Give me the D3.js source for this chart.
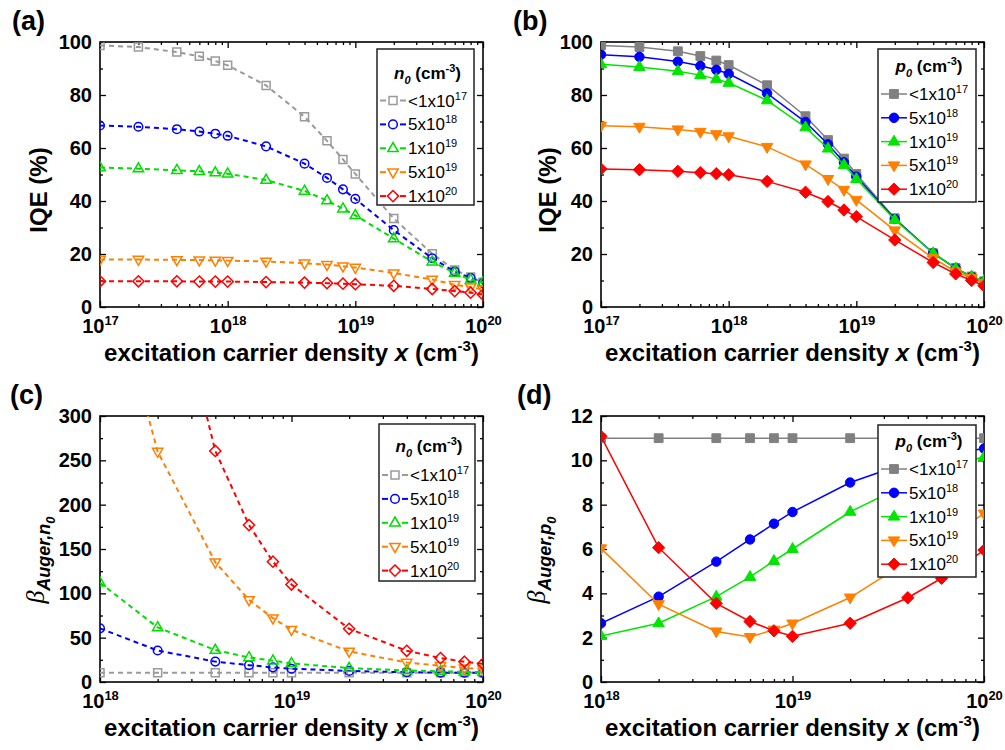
<!DOCTYPE html>
<html>
<head>
<meta charset="utf-8">
<script src="https://cdn.jsdelivr.net/npm/d3@7"></script>
<style>
  body { margin: 0; background: #fff; }
  svg { font-family: "Liberation Sans", Arial, Helvetica, sans-serif; }
</style>
</head>
<body>
<svg id="chart" width="1005" height="750"></svg>
<script>
// x positions (excitation carrier density, cm^-3)
var xIQE = [1e17, 2e17, 4e17, 6e17, 8e17, 1e18, 2e18, 4e18, 6e18, 8e18, 1e19, 2e19, 4e19, 6e19, 8e19, 1e20];
var xBeta = [1e18, 2e18, 4e18, 6e18, 8e18, 1e19, 2e19, 4e19, 6e19, 8e19, 1e20];

// tick values
var iqeXTicks = [1e17, 1e18, 1e19, 1e20];
var betaXTicks = [1e18, 1e19, 1e20];
var iqeYTicks = [0, 20, 40, 60, 80, 100];
var betaNYTicks = [0, 50, 100, 150, 200, 250, 300];
var betaPYTicks = [0, 2, 4, 6, 8, 10, 12];

// legend labels: mantissa + exponent
var dopingLabels = [['<1x10', '17'], ['5x10', '18'], ['1x10', '19'], ['5x10', '19'], ['1x10', '20']];

// (a) IQE, n-type background n0
var iqeN1 = [98.7, 98.1, 96.2, 94.6, 92.8, 91.2, 83.6, 71.8, 62.7, 55.7, 50.2, 33.4, 20.1, 14.0, 11.3, 9.3];
var iqeN2 = [68.5, 68.0, 67.1, 66.2, 65.4, 64.6, 60.6, 54.1, 48.7, 44.4, 40.8, 29.0, 18.4, 13.4, 10.9, 9.0];
var iqeN3 = [52.6, 52.2, 51.6, 51.2, 50.7, 50.3, 47.9, 43.8, 40.2, 37.1, 34.6, 25.8, 17.1, 12.8, 10.3, 9.3];
var iqeN4 = [17.9, 17.9, 17.8, 17.7, 17.6, 17.5, 17.2, 16.5, 16.0, 15.4, 14.9, 12.8, 10.4, 8.4, 7.5, 6.6];
var iqeN5 = [9.7, 9.7, 9.7, 9.6, 9.6, 9.6, 9.4, 9.2, 9.0, 8.8, 8.6, 8.0, 6.8, 6.0, 5.4, 4.7];

// (b) IQE, p-type background p0
var iqeP1 = [98.7, 98.1, 96.5, 94.7, 93.0, 91.3, 83.7, 72.0, 63.0, 56.0, 50.2, 33.5, 20.3, 14.7, 11.5, 9.7];
var iqeP2 = [95.2, 94.4, 92.6, 91.0, 89.5, 88.0, 80.6, 69.8, 61.4, 54.6, 49.2, 33.2, 20.3, 14.6, 11.4, 9.5];
var iqeP3 = [91.6, 90.6, 89.0, 87.5, 86.0, 84.6, 78.0, 67.8, 59.8, 53.6, 48.3, 32.9, 20.3, 14.6, 11.5, 9.9];
var iqeP4 = [68.4, 68.0, 67.0, 66.1, 65.2, 64.4, 60.4, 53.8, 48.3, 44.2, 40.4, 28.9, 18.4, 13.4, 10.9, 9.0];
var iqeP5 = [52.1, 51.8, 51.2, 50.7, 50.3, 49.9, 47.4, 43.3, 39.8, 36.6, 34.1, 25.3, 16.8, 12.5, 10.0, 8.0];

// (c) beta Auger, n0
var betaN1 = [10.5, 10.5, 10.5, 10.5, 10.5, 10.5, 10.5, 10.5, 10.5, 10.5, 10.5];
var betaN2 = [60.5, 35.5, 23.0, 19.0, 16.5, 15.0, 12.5, 11.0, 10.6, 10.4, 10.3];
var betaN3 = [112, 61.5, 36.0, 27.7, 24.0, 21.0, 15.7, 13.0, 12.0, 11.5, 11.2];
var betaN4 = [500, 260, 135, 92.6, 72.0, 59.0, 34.5, 22.0, 18.3, 15.7, 14.5];
var betaN5 = [1050, 525, 260.6, 177, 135.7, 110, 60.0, 35.2, 27.0, 22.8, 20.5];

// (d) beta Auger, p0
var betaP1 = [11, 11, 11, 11, 11, 11, 11, 11, 11, 11, 11];
var betaP2 = [2.65, 3.85, 5.43, 6.43, 7.14, 7.67, 9.0, 9.9, 10.2, 10.4, 10.53];
var betaP3 = [2.08, 2.65, 3.85, 4.74, 5.46, 6.0, 7.68, 8.95, 9.6, 9.95, 10.15];
var betaP4 = [6.03, 3.51, 2.28, 2.03, 2.36, 2.64, 3.81, 5.45, 6.4, 7.05, 7.6];
var betaP5 = [11.08, 6.06, 3.55, 2.73, 2.31, 2.06, 2.65, 3.8, 4.68, 5.35, 5.95];

var markers = ['square', 'circle', 'triUp', 'triDown', 'diamond'];
var colorsOpen = ['#9a9a9a', '#0000ff', '#00dd00', '#ff8000', '#ff0000'];
var colorsFilled = ['#808080', '#0000ff', '#00e600', '#ff8000', '#ff0000'];

var svg = d3.select('#chart');

// marker shapes, centred on 0,0
function markerPath(type, filled) {
  var k = filled ? 1.1 : 1;
  if (type === 'square') {
    var h = 4 * k;
    return 'M' + (-h) + ',' + (-h) + 'h' + 2 * h + 'v' + 2 * h + 'h' + (-2 * h) + 'Z';
  }
  if (type === 'circle') {
    var r = 4.3 * k;
    return 'M' + r + ',0A' + r + ',' + r + ' 0 1,1 ' + (-r) + ',0A' + r + ',' + r + ' 0 1,1 ' + r + ',0Z';
  }
  if (type === 'triUp' || type === 'triDown') {
    var w = 5.2 * k, t = 5.8 * k, b = 3.2 * k;
    var s = type === 'triUp' ? 1 : -1;
    return 'M0,' + (-t * s) + 'L' + w + ',' + (b * s) + 'L' + (-w) + ',' + (b * s) + 'Z';
  }
  var d = 5.6 * k;
  return 'M0,' + (-d) + 'L' + d + ',0L0,' + d + 'L' + (-d) + ',0Z';
}

function drawPanel(p) {
  var x = d3.scaleLog().domain(p.xDomain).range([p.left, p.right]);
  var y = d3.scaleLinear().domain(p.yDomain).range([p.bottom, p.top]);
  var g = svg.append('g');

  g.append('clipPath').attr('id', 'clip-' + p.id)
    .append('rect')
    .attr('x', p.left).attr('y', p.top)
    .attr('width', p.right - p.left).attr('height', p.bottom - p.top);

  // minor ticks
  var minorX = [];
  var lo = Math.round(Math.log10(p.xDomain[0])), hi = Math.round(Math.log10(p.xDomain[1]));
  for (var dec = lo; dec < hi; dec++) {
    for (var m = 2; m <= 9; m++) minorX.push(m * Math.pow(10, dec));
  }
  var step = p.yTicks[1] - p.yTicks[0];
  var minorY = p.yTicks.slice(0, -1).map(function(v) { return v + step / 2; });

  function addAxis(axis, tx, ty) {
    var a = g.append('g').attr('transform', 'translate(' + tx + ',' + ty + ')').call(axis);
    a.select('.domain').remove();
    a.selectAll('line').attr('stroke', '#000').attr('stroke-width', 1.3);
    return a;
  }

  var bottomAxis = addAxis(d3.axisBottom(x).tickValues(p.xTicks).tickSizeInner(-6).tickSizeOuter(0).tickPadding(12), 0, p.bottom);
  addAxis(d3.axisBottom(x).tickValues(minorX).tickSizeInner(-3).tickSizeOuter(0).tickFormat(''), 0, p.bottom);
  addAxis(d3.axisTop(x).tickValues(p.xTicks).tickSizeInner(-6).tickSizeOuter(0).tickFormat(''), 0, p.top);
  addAxis(d3.axisTop(x).tickValues(minorX).tickSizeInner(-3).tickSizeOuter(0).tickFormat(''), 0, p.top);
  var leftAxis = addAxis(d3.axisLeft(y).tickValues(p.yTicks).tickSizeInner(-6).tickSizeOuter(0).tickPadding(8), p.left, 0);
  addAxis(d3.axisLeft(y).tickValues(minorY).tickSizeInner(-3).tickSizeOuter(0).tickFormat(''), p.left, 0);
  addAxis(d3.axisRight(y).tickValues(p.yTicks).tickSizeInner(-6).tickSizeOuter(0).tickFormat(''), p.right, 0);
  addAxis(d3.axisRight(y).tickValues(minorY).tickSizeInner(-3).tickSizeOuter(0).tickFormat(''), p.right, 0);

  leftAxis.selectAll('text')
    .attr('font-family', null)
    .style('font-size', '20px').style('font-weight', 'bold').attr('fill', '#000');

  // x labels as 10^n
  bottomAxis.selectAll('text').each(function(d) {
    var t = d3.select(this).attr('font-family', null).attr('fill', '#000')
      .style('font-size', '20px').style('font-weight', 'bold');
    t.text('');
    t.append('tspan').text('10');
    t.append('tspan').attr('dy', -8).style('font-size', '13px').text(Math.round(Math.log10(d)));
  });

  // frame
  g.append('rect')
    .attr('x', p.left).attr('y', p.top)
    .attr('width', p.right - p.left).attr('height', p.bottom - p.top)
    .attr('fill', 'none').attr('stroke', '#000').attr('stroke-width', 1.6);

  // data
  var plot = g.append('g').attr('clip-path', 'url(#clip-' + p.id + ')');
  var line = d3.line().x(function(d) { return x(d[0]); }).y(function(d) { return y(d[1]); });
  p.series.forEach(function(vals, i) {
    var color = p.filled ? colorsFilled[i] : colorsOpen[i];
    var pts = p.xs.map(function(xv, j) { return [xv, vals[j]]; });
    plot.append('path')
      .attr('d', line(pts))
      .attr('fill', 'none')
      .attr('stroke', color)
      .attr('stroke-width', p.filled ? 1.5 : 2)
      .attr('stroke-dasharray', p.filled ? null : '5,4');
    plot.selectAll(null).data(pts).enter().append('path')
      .attr('transform', function(d) { return 'translate(' + x(d[0]) + ',' + y(d[1]) + ')'; })
      .attr('d', markerPath(markers[i], p.filled))
      .attr('fill', p.filled ? color : 'none')
      .attr('stroke', color)
      .attr('stroke-width', p.filled ? 1 : 1.5);
  });

  // legend
  var L = p.legend;
  var lg = g.append('g');
  lg.append('rect')
    .attr('x', L.x).attr('y', L.y).attr('width', L.w).attr('height', L.h)
    .attr('fill', '#fff').attr('stroke', '#222').attr('stroke-width', 1.5);
  var title = lg.append('text')
    .attr('x', L.x + L.w / 2 + 2).attr('y', L.titleY)
    .attr('text-anchor', 'middle')
    .style('font-size', '17px').style('font-weight', 'bold');
  title.append('tspan').style('font-style', 'italic').text(p.carrier);
  title.append('tspan').attr('dy', 5).style('font-style', 'italic').style('font-size', '11px').text('0');
  title.append('tspan').attr('dy', -5).text(' (cm');
  title.append('tspan').attr('dy', -7).style('font-size', '11px').text('-3');
  title.append('tspan').attr('dy', 7).text(')');

  dopingLabels.forEach(function(lab, i) {
    var color = p.filled ? colorsFilled[i] : colorsOpen[i];
    var cy = L.firstY + i * L.stepY, cx = L.x + 16;
    if (p.filled) {
      lg.append('line').attr('x1', cx - 13).attr('x2', cx + 13).attr('y1', cy).attr('y2', cy)
        .attr('stroke', color).attr('stroke-width', 1.5);
    } else {
      [[-13, -7], [7, 13]].forEach(function(seg) {
        lg.append('line').attr('x1', cx + seg[0]).attr('x2', cx + seg[1]).attr('y1', cy).attr('y2', cy)
          .attr('stroke', color).attr('stroke-width', 2);
      });
    }
    lg.append('path')
      .attr('transform', 'translate(' + cx + ',' + cy + ')')
      .attr('d', markerPath(markers[i], p.filled))
      .attr('fill', p.filled ? color : 'none')
      .attr('stroke', color)
      .attr('stroke-width', p.filled ? 1 : 1.5);
    var t = lg.append('text').attr('x', L.x + 31).attr('y', cy + 6).style('font-size', '17px');
    t.append('tspan').text(lab[0]);
    t.append('tspan').attr('dy', -7).style('font-size', '11px').text(lab[1]);
  });

  // axis titles
  var xt = g.append('text')
    .attr('x', (p.left + p.right) / 2).attr('y', p.bottom + 54)
    .attr('text-anchor', 'middle')
    .style('font-size', '24px').style('font-weight', 'bold');
  xt.append('tspan').text('excitation carrier density ');
  xt.append('tspan').style('font-style', 'italic').text('x');
  xt.append('tspan').text(' (cm');
  xt.append('tspan').attr('dy', -10).style('font-size', '15px').text('-3');
  xt.append('tspan').attr('dy', 10).text(')');

  var yt = g.append('text')
    .attr('transform', 'translate(' + p.yTitleX + ',' + p.yTitleY + ') rotate(-90)')
    .attr('text-anchor', 'middle');
  if (p.yTitle === 'IQE') {
    yt.style('font-size', '24px').style('font-weight', 'bold').text('IQE (%)');
  } else {
    yt.append('tspan').style('font-family', '"Liberation Serif", serif').style('font-style', 'italic')
      .style('font-size', '26px').text('\u03b2');
    yt.append('tspan').attr('dy', 6).style('font-size', '18px').style('font-weight', 'bold')
      .style('font-style', 'italic').text('Auger,' + p.carrier);
    yt.append('tspan').attr('dy', 5).style('font-size', '13px').style('font-weight', 'bold')
      .style('font-style', 'italic').text('0');
  }

  // panel letter
  g.append('text').attr('x', p.labelX).attr('y', p.top - 12.5)
    .style('font-size', '27px').style('font-weight', 'bold').text(p.label);
}

drawPanel({
  id: 'a', label: '(a)', labelX: 12, left: 100, right: 483, top: 42, bottom: 307,
  xDomain: [1e17, 1e20], yDomain: [0, 100], xTicks: iqeXTicks, yTicks: iqeYTicks,
  xs: xIQE, series: [iqeN1, iqeN2, iqeN3, iqeN4, iqeN5], filled: false, carrier: 'n',
  yTitle: 'IQE', yTitleX: 47, yTitleY: 190,
  legend: { x: 377, y: 49, w: 97, h: 156, titleY: 79, firstY: 100.5, stepY: 23.9 }
});
drawPanel({
  id: 'b', label: '(b)', labelX: 513, left: 601, right: 984, top: 42, bottom: 307,
  xDomain: [1e17, 1e20], yDomain: [0, 100], xTicks: iqeXTicks, yTicks: iqeYTicks,
  xs: xIQE, series: [iqeP1, iqeP2, iqeP3, iqeP4, iqeP5], filled: true, carrier: 'p',
  yTitle: 'IQE', yTitleX: 556, yTitleY: 190,
  legend: { x: 878, y: 49, w: 98, h: 153, titleY: 72, firstY: 94, stepY: 23.8 }
});
drawPanel({
  id: 'c', label: '(c)', labelX: 10, left: 100, right: 483, top: 416, bottom: 682,
  xDomain: [1e18, 1e20], yDomain: [0, 300], xTicks: betaXTicks, yTicks: betaNYTicks,
  xs: xBeta, series: [betaN1, betaN2, betaN3, betaN4, betaN5], filled: false, carrier: 'n',
  yTitle: 'beta', yTitleX: 44, yTitleY: 560,
  legend: { x: 379, y: 424, w: 96, h: 157, titleY: 452, firstY: 475, stepY: 23.9 }
});
drawPanel({
  id: 'd', label: '(d)', labelX: 517, left: 601, right: 984, top: 416, bottom: 682,
  xDomain: [1e18, 1e20], yDomain: [0, 12], xTicks: betaXTicks, yTicks: betaPYTicks,
  xs: xBeta, series: [betaP1, betaP2, betaP3, betaP4, betaP5], filled: true, carrier: 'p',
  yTitle: 'beta', yTitleX: 545, yTitleY: 560,
  legend: { x: 878, y: 425, w: 98, h: 152, titleY: 447, firstY: 469, stepY: 23.8 }
});
</script>
</body>
</html>
